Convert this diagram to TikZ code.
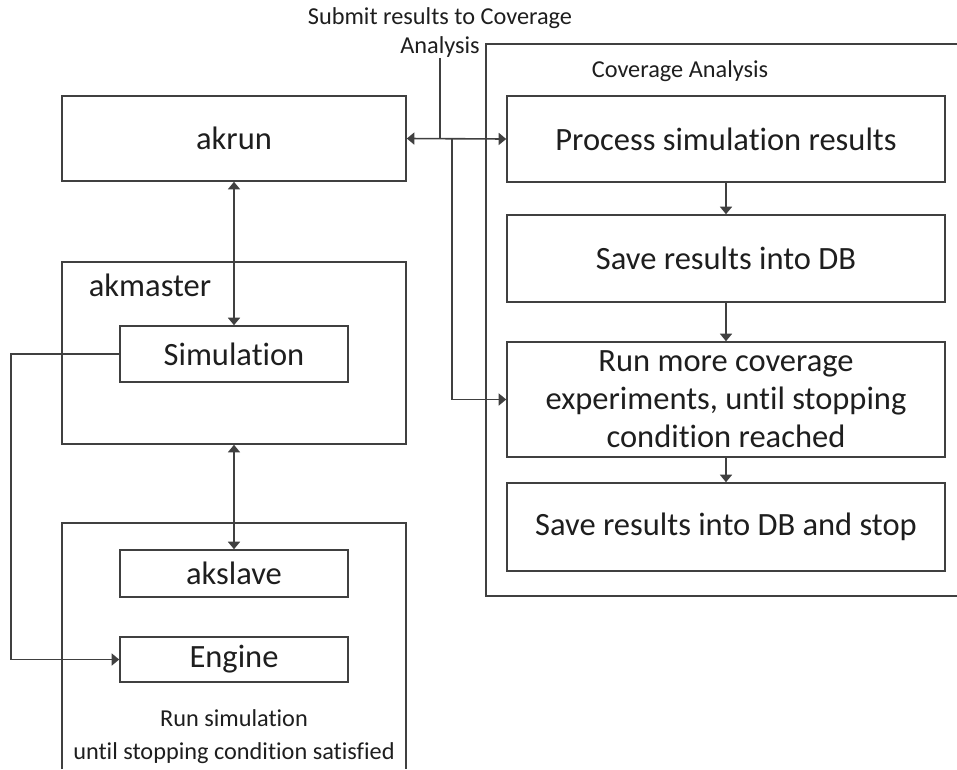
\documentclass[tikz,border=0pt]{standalone}
\usepackage{fontspec}
\setmainfont{Carlito}[RawFeature={-liga;-clig;-calt;-dlig}]
\usetikzlibrary{arrows.meta}
\definecolor{linegray}{HTML}{404040}
\definecolor{textgray}{HTML}{1E1E1E}
\begin{document}
\begin{tikzpicture}[x=1pt,y=-1pt,
	box/.style={draw=linegray, line width=1.6pt, inner sep=0pt, align=center, text=textgray, font=\fontsize{32.5}{38}\selectfont},
	note/.style={inner sep=0pt, align=center, text=textgray, font=\fontsize{24.3}{29}\selectfont},
	link/.style={draw=linegray, line width=1.6pt},
	tip/.style={-{Triangle[length=7.5pt,width=12pt]}},
	tips/.style={{Triangle[length=7.5pt,width=12pt]}-{Triangle[length=7.5pt,width=12pt]}}]
	\useasboundingbox (0,0) rectangle (957,769);
	% left column
	\node[box, minimum width=344pt, minimum height=85pt] (akrun) at (234,138.5) {akrun};
	\node[box, minimum width=344pt, minimum height=182pt] (akmaster) at (234,353) {};
	\node[font=\fontsize{32.5}{38}\selectfont, text=textgray, inner sep=0pt] (mastertitle) at (150,285) {akmaster};
	\node[box, minimum width=228pt, minimum height=56pt] (sim) at (234,354) {Simulation};
	\draw[link] (62,769) -- (62,523) -- (406,523) -- (406,769);
	\node[box, minimum width=228pt, minimum height=47pt] (akslave) at (234,573.5) {akslave};
	\node[box, minimum width=228pt, minimum height=45pt] (engine) at (234,659.5) {Engine};
	\node[note, font=\fontsize{24.3}{33}\selectfont] (runsim) at (234,737) {Run simulation\\until stopping condition satisfied};
	% coverage analysis
	\draw[link] (957,44) -- (486,44) -- (486,596) -- (957,596);
	\node[note] (covtitle) at (680,71) {Coverage Analysis};
	\node[box, minimum width=438pt, minimum height=86pt] (process) at (726,139) {Process simulation results};
	\node[box, minimum width=438pt, minimum height=87pt] (savedb) at (726,258.5) {Save results into DB};
	\node[box, minimum width=438pt, minimum height=115pt] (runmore) at (726,399.5) {Run more coverage\\experiments, until stopping\\condition reached};
	\node[box, minimum width=438pt, minimum height=88pt] (savestop) at (726,527) {Save results into DB and stop};
	\node[note] (submit) at (440,33) {Submit results to Coverage\\Analysis};
	% connectors
	\draw[link, tips] (akrun.south) -- (sim.north);
	\draw[link, tips] (akmaster.south) -- (akslave.north);
	\draw[link, tip] (sim.west) -- ++(-108,0) |- (engine.west);
	\draw[link, tips] (akrun.east) -- (process.west);
	\coordinate (jsubmit) at (submit.south |- akrun.east);
	\coordinate (jrun) at (452,139);
	\draw[link] (submit.south) -- (jsubmit);
	\draw[link, tip] (jrun) |- (runmore.west);
	\draw[link, tip] (process.south) -- (savedb.north);
	\draw[link, tip] (savedb.south) -- (runmore.north);
	\draw[link, tip] (runmore.south) -- (savestop.north);
\end{tikzpicture}
\end{document}
